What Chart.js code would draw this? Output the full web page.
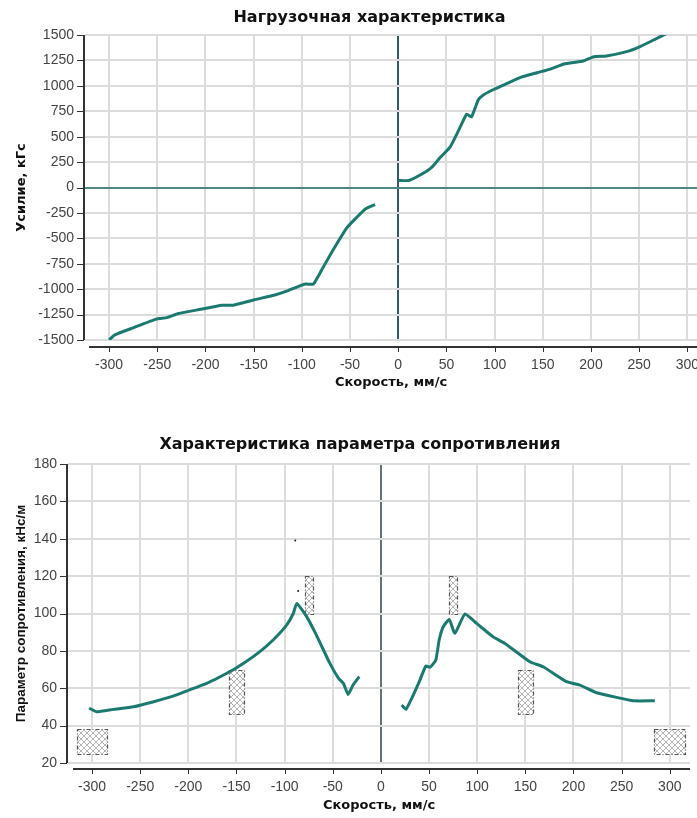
<!DOCTYPE html>
<html lang="ru">
<head>
    <meta charset="UTF-8">
    <title>Нагрузочная характеристика</title>
    <script src="https://cdn.jsdelivr.net/npm/chart.js"></script>
    <style>
        body { margin: 0; background: #fff; }
        .page { position: relative; width: 697px; height: 818px; }
        .box-top { position: absolute; left: 0; top: 0; width: 697px; height: 400px; }
        .box-bottom { position: absolute; left: 0; top: 400px; width: 697px; height: 418px; }
    </style>
</head>
<body>
<div class="page">
    <div class="box-top"><canvas id="loadChart"></canvas></div>
    <div class="box-bottom"><canvas id="resistChart"></canvas></div>
</div>
<script>
// Нагрузочная характеристика: отбой (v < 0) и сжатие (v > 0)
var loadSpeedNeg = [-300, -294, -275, -251, -240, -228, -205, -183, -171, -150, -129, -115, -102, -96, -88, -78, -67, -53, -43, -34, -24];
var loadForceNeg = [-1500, -1450, -1380, -1295, -1280, -1240, -1198, -1158, -1158, -1106, -1060, -1017, -967, -950, -950, -787, -605, -392, -293, -211, -168];
var loadSpeedPos = [0, 11, 25, 35, 44, 54, 61, 66, 71, 76, 83, 88, 99, 113, 127, 144, 158, 172, 192, 203, 216, 237, 251, 265, 279];
var loadForcePos = [70, 69, 135, 200, 300, 400, 530, 629, 721, 694, 860, 908, 964, 1024, 1083, 1129, 1165, 1214, 1244, 1286, 1293, 1336, 1386, 1451, 1517];

// Характеристика параметра сопротивления
var resSpeedNeg = [-303, -295, -278, -257, -236, -216, -202, -181, -160, -143, -126, -112, -98, -91, -87.5, -77, -67, -53, -44, -39, -34, -29, -22.5];
var resParamNeg = [49.3, 47.4, 48.7, 50.1, 52.8, 55.8, 58.5, 62.6, 68, 73.3, 79.5, 85.8, 93.8, 100, 105.4, 98.2, 88.4, 73.3, 65.3, 62.6, 56.7, 61.7, 66.2];
var resSpeedPos = [21.5, 26, 32, 40.5, 46.7, 51, 57, 60.5, 64.7, 71, 76.8, 87.2, 99.4, 116.6, 128.8, 154.7, 168.5, 192.8, 206.6, 224, 244.8, 262, 284.5];
var resParamPos = [51, 48.7, 54.6, 64.4, 71.9, 71.2, 75.1, 85.8, 92.9, 96.8, 89.4, 99.7, 94.7, 87.5, 84, 74.2, 71.5, 63.5, 61.7, 57.6, 55.1, 53.3, 53.3];

// допуски (заштрихованные прямоугольники)
var boxSpeedFrom = [-316, -158, -79, 71, 142, 284];
var boxSpeedTo   = [-284, -142, -71, 79, 158, 316];
var boxParamFrom = [25, 46, 100, 100, 46, 25];
var boxParamTo   = [38, 70, 120, 120, 70, 38];

var strayDotSpeed = [-89, -86];
var strayDotParam = [139, 112];

// подписи оси скорости
var speedTicks = [-300, -250, -200, -150, -100, -50, 0, 50, 100, 150, 200, 250, 300];

var curveColor = '#1b7a70';
var gridColor = '#dcdcdc';
var tickFont = { family: 'Liberation Sans', size: 14 };
var titleFont = { family: 'DejaVu Sans', size: 16, weight: 'bold' };
var axisTitleFont = { family: 'DejaVu Sans', size: 13, weight: 'bold' };

function toPoints(xs, ys) {
    return xs.map(function (x, i) { return { x: x, y: ys[i] }; });
}

function speedTickList(scale) {
    scale.ticks = speedTicks.map(function (v) { return { value: v }; });
}

// подписи крайних делений не должны сужать поле графика
function fitSpeedAxis(h) {
    return function (s) {
        s.height = h;
        s.paddingLeft = 0;
        s.paddingRight = 0;
    };
}

// оси, отнесённые от поля графика, с засечками
var axisFrame = {
    id: 'axisFrame',
    afterLayout: function (chart, args, opts) {
        // заголовок смещён вправо относительно центра холста
        if (chart.titleBlock) {
            chart.titleBlock.left += opts.titleShift;
            chart.titleBlock.right += opts.titleShift;
        }
    },
    afterDraw: function (chart, args, opts) {
        var ctx = chart.ctx, a = chart.chartArea;
        var x = chart.scales.x, y = chart.scales.y;
        var yx = a.left - 1, xy = a.bottom + opts.xGap;
        ctx.save();
        ctx.strokeStyle = '#333';
        ctx.lineWidth = 2;
        ctx.beginPath();
        ctx.moveTo(yx, a.top);
        ctx.lineTo(yx, a.bottom);
        ctx.moveTo(a.left + opts.xInset, xy);
        ctx.lineTo(a.right, xy);
        ctx.stroke();
        ctx.lineWidth = 1;
        ctx.beginPath();
        y.ticks.forEach(function (t) {
            var p = Math.round(y.getPixelForValue(t.value)) + 0.5;
            ctx.moveTo(yx - 7, p);
            ctx.lineTo(yx, p);
        });
        x.ticks.forEach(function (t) {
            var p = Math.round(x.getPixelForValue(t.value)) + 0.5;
            ctx.moveTo(p, xy);
            ctx.lineTo(p, xy + 5);
        });
        ctx.stroke();
        ctx.restore();
    }
};

function crossHatch(ctx) {
    var c = document.createElement('canvas');
    c.width = 6; c.height = 6;
    var g = c.getContext('2d');
    g.fillStyle = '#fff';
    g.fillRect(0, 0, 6, 6);
    g.strokeStyle = '#b5b5b5';
    g.lineWidth = 1;
    g.beginPath();
    g.moveTo(0, 0); g.lineTo(6, 6);
    g.moveTo(6, 0); g.lineTo(0, 6);
    g.stroke();
    return ctx.createPattern(c, 'repeat');
}

var hatchBoxes = {
    id: 'hatchBoxes',
    beforeDatasetsDraw: function (chart) {
        var ctx = chart.ctx, x = chart.scales.x, y = chart.scales.y;
        var pattern = crossHatch(ctx);
        ctx.save();
        for (var i = 0; i < boxSpeedFrom.length; i++) {
            var x1 = Math.round(x.getPixelForValue(boxSpeedFrom[i])) + 0.5;
            var x2 = Math.round(x.getPixelForValue(boxSpeedTo[i])) + 0.5;
            var y1 = Math.round(y.getPixelForValue(boxParamTo[i])) + 0.5;
            var y2 = Math.round(y.getPixelForValue(boxParamFrom[i])) + 0.5;
            ctx.fillStyle = pattern;
            ctx.fillRect(x1, y1, x2 - x1, y2 - y1);
            ctx.setLineDash([4, 2, 1, 2]);
            ctx.strokeStyle = '#555';
            ctx.lineWidth = 1.2;
            ctx.strokeRect(x1, y1, x2 - x1, y2 - y1);
        }
        ctx.restore();
    }
};

function gridOpts(zeroColor) {
    return {
        drawTicks: false,
        color: function (c) { return c.tick && c.tick.value === 0 ? zeroColor : gridColor; },
        lineWidth: 2
    };
}

function curve(xs, ys) {
    return {
        data: toPoints(xs, ys),
        borderColor: curveColor,
        borderWidth: 3,
        pointRadius: 0,
        tension: 0.15,
        showLine: true
    };
}

var fmt = function (v) { return String(v); };

new Chart(document.getElementById('loadChart'), {
    type: 'scatter',
    data: {
        datasets: [
            curve(loadSpeedNeg, loadForceNeg),
            curve(loadSpeedPos, loadForcePos)
        ]
    },
    options: {
        responsive: true,
        maintainAspectRatio: false,
        animation: false,
        layout: { padding: 0 },
        plugins: {
            legend: { display: false },
            tooltip: { enabled: false },
            title: {
                display: true,
                text: 'Нагрузочная характеристика',
                font: titleFont,
                color: '#111',
                padding: { top: 8, bottom: 7.8 }
            },
            axisFrame: { xGap: 7, xInset: 4, titleShift: 21 }
        },
        scales: {
            x: {
                type: 'linear',
                min: -325,
                max: 310,
                afterBuildTicks: speedTickList,
                afterFit: fitSpeedAxis(60),
                ticks: { font: tickFont, color: '#444', padding: 16.5, maxRotation: 0, autoSkip: false, callback: fmt },
                grid: gridOpts('#2f5c62'),
                border: { display: false },
                title: { display: true, text: 'Скорость, мм/с', font: axisTitleFont, color: '#111', padding: { top: 0, bottom: 10 } }
            },
            y: {
                min: -1500,
                max: 1500,
                afterFit: function (s) { s.width = 85; },
                ticks: { stepSize: 250, font: tickFont, color: '#444', padding: 11, autoSkip: false, callback: fmt },
                grid: gridOpts('#4d8789'),
                border: { display: false },
                title: { display: true, text: 'Усилие, кГс', font: axisTitleFont, color: '#111', padding: { top: 14, bottom: 0 } }
            }
        }
    },
    plugins: [axisFrame]
});

var strayDots = {
    data: toPoints(strayDotSpeed, strayDotParam),
    pointRadius: 1,
    pointBackgroundColor: '#222',
    pointBorderWidth: 0,
    showLine: false
};

new Chart(document.getElementById('resistChart'), {
    type: 'scatter',
    data: {
        datasets: [
            curve(resSpeedNeg, resParamNeg),
            curve(resSpeedPos, resParamPos),
            strayDots
        ]
    },
    options: {
        responsive: true,
        maintainAspectRatio: false,
        animation: false,
        layout: { padding: { left: 0, right: 7, top: 0, bottom: 0 } },
        plugins: {
            legend: { display: false },
            tooltip: { enabled: false },
            title: {
                display: true,
                text: 'Характеристика параметра сопротивления',
                font: titleFont,
                color: '#111',
                padding: { top: 35.4, bottom: 9.4 }
            },
            axisFrame: { xGap: 6, xInset: 5, titleShift: 15 }
        },
        scales: {
            x: {
                type: 'linear',
                min: -325,
                max: 321,
                afterBuildTicks: speedTickList,
                afterFit: fitSpeedAxis(55),
                ticks: { font: tickFont, color: '#444', padding: 15.5, maxRotation: 0, autoSkip: false, callback: fmt },
                grid: gridOpts('#5d7384'),
                border: { display: false },
                title: { display: true, text: 'Скорость, мм/с', font: axisTitleFont, color: '#111', padding: { top: 0, bottom: 5 } }
            },
            y: {
                min: 20,
                max: 180,
                afterFit: function (s) { s.width = 68; },
                ticks: { stepSize: 20, font: tickFont, color: '#444', padding: 11, autoSkip: false, callback: fmt },
                grid: { drawTicks: false, color: gridColor, lineWidth: 2 },
                border: { display: false },
                title: { display: true, text: 'Параметр сопротивления, кНс/м', font: { family: 'Liberation Sans', size: 13.5, weight: 'bold' }, color: '#111', padding: { top: 13, bottom: 0 } }
            }
        }
    },
    plugins: [axisFrame, hatchBoxes]
});
</script>
</body>
</html>
